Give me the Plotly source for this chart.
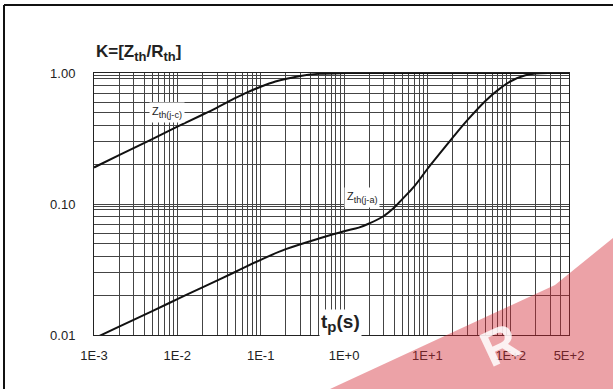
import plotly.graph_objects as go
import math

# ---- data ----
t_jc = [0.001, 0.002, 0.005, 0.01, 0.02, 0.03, 0.05, 0.07, 0.1, 0.15, 0.2, 0.3, 0.5, 1,
        2, 5, 10, 100, 500]
k_jc = [0.19, 0.236, 0.313, 0.389, 0.48, 0.545, 0.645, 0.715, 0.785, 0.86, 0.9, 0.95,
        0.985, 0.998, 1.0, 1.0, 1.0, 1.0, 1.0]

t_ja = [0.001, 0.002, 0.005, 0.01, 0.02, 0.05, 0.1, 0.2, 0.5, 1, 1.5, 2, 3, 4, 5, 7,
        10, 15, 20, 30, 50, 70, 100, 150, 200, 300, 500]
k_ja = [0.0094, 0.0116, 0.0152, 0.0188, 0.0231, 0.0304, 0.0375, 0.0452, 0.0545, 0.062,
        0.066, 0.071, 0.081, 0.094, 0.109, 0.137, 0.185, 0.255, 0.32, 0.435, 0.615,
        0.74, 0.865, 0.96, 0.99, 1.0, 1.0]

x_decades = [0.001, 0.01, 0.1, 1, 10]
x_last = [100, 200, 300, 400, 500]
x_tick_vals = [0.001, 0.01, 0.1, 1, 10, 100, 500]
x_tick_text = ["1E-3", "1E-2", "1E-1", "1E+0", "1E+1", "1E+2", "5E+2"]

y_decades = [0.01, 0.1]
y_extra = [0.095, 0.95, 1.0]
y_tick_vals = [0.01, 0.1, 1.0]
y_tick_text = ["0.01", "0.10", "1.00"]

# grid positions
x_grid = [d * m for d in x_decades for m in range(1, 10)] + x_last
y_grid = [d * m for d in y_decades for m in range(1, 10)] + y_extra


def labels(grid, vals, texts):
    out = []
    for g in grid:
        lab = ""
        for v, t in zip(vals, texts):
            if abs(g - v) / v < 1e-6:
                lab = t
        out.append(lab)
    return out


FONT = "Liberation Sans, Arial, Helvetica, sans-serif"
W, H = 613, 389
ML, MR, MT, MB = 94, 44, 73, 54
PW, PH = W - ML - MR, H - MT - MB


def px(x):
    return (x - ML) / PW


def py(y):
    return (H - MB - y) / PH


fig = go.Figure()
fig.add_trace(go.Scatter(x=t_jc, y=k_jc, mode="lines",
                         line=dict(color="#111", width=2, shape="spline", smoothing=1.0),
                         showlegend=False, hoverinfo="skip"))
fig.add_trace(go.Scatter(x=t_ja, y=k_ja, mode="lines",
                         line=dict(color="#111", width=2, shape="spline", smoothing=1.0),
                         showlegend=False, hoverinfo="skip"))

fig.update_xaxes(type="log", range=[-3, math.log10(500)],
                 tickvals=x_grid, ticktext=labels(x_grid, x_tick_vals, x_tick_text),
                 showgrid=True, gridcolor="#444", gridwidth=1,
                 showline=True, linecolor="#222", linewidth=1, mirror=True,
                 ticks="", zeroline=False,
                 tickfont=dict(family=FONT, size=13, color="#222"),
                 ticklabelstandoff=8)
fig.update_yaxes(type="log", range=[-2, 0],
                 tickvals=y_grid, ticktext=labels(y_grid, y_tick_vals, y_tick_text),
                 showgrid=True, gridcolor="#444", gridwidth=1,
                 showline=True, linecolor="#222", linewidth=1, mirror=True,
                 ticks="", zeroline=False,
                 tickfont=dict(family=FONT, size=13, color="#222"),
                 ticklabelstandoff=15)

annotations = [
    dict(text="<b>K=[Z<sub><span style='font-size:13px'>th</span></sub>/R"
              "<sub><span style='font-size:13px'>th</span></sub>]</b>",
         xref="paper", yref="paper",
         x=px(94), y=py(53), xanchor="left", yanchor="middle", showarrow=False,
         font=dict(family=FONT, size=17, color="#222")),
    dict(text="<span style='font-size:11px'>Z</span><sub>th(j-c)</sub>",
         xref="paper", yref="paper",
         x=px(167), y=py(112), xanchor="center", yanchor="middle", showarrow=False,
         bgcolor="white", borderpad=2,
         font=dict(family=FONT, size=13, color="#222")),
    dict(text="<span style='font-size:11px'>Z</span><sub>th(j-a)</sub>",
         xref="paper", yref="paper",
         x=px(362), y=py(197), xanchor="center", yanchor="middle", showarrow=False,
         bgcolor="white", borderpad=2,
         font=dict(family=FONT, size=13, color="#222")),
    dict(text="<b>t<sub><span style='font-size:15px'>p</span></sub>(s)</b>",
         xref="paper", yref="paper",
         x=px(340), y=py(323), xanchor="center", yanchor="middle", showarrow=False,
         bgcolor="white", borderpad=1,
         font=dict(family=FONT, size=19, color="#222")),
    # watermark letter
    dict(text="<b>R</b>", xref="paper", yref="paper",
         x=px(500), y=py(345), xanchor="center", yanchor="middle", showarrow=False,
         textangle=-25, font=dict(family=FONT, size=50, color="rgba(255,255,255,0.85)")),
]

wm_path = "M {} {} L {} {} L {} {} L {} {} Z".format(
    px(330), py(389), px(555), py(285), px(613), py(238), px(613), py(389))

shapes = [
    dict(type="path", xref="paper", yref="paper", path=wm_path,
         fillcolor="rgba(210,40,50,0.43)", line=dict(width=0), layer="above"),
    dict(type="line", xref="paper", yref="paper",
         x0=px(4), y0=py(5), x1=px(620), y1=py(5), line=dict(color="#111", width=2)),
    dict(type="line", xref="paper", yref="paper",
         x0=px(4), y0=py(5), x1=px(4), y1=py(395), line=dict(color="#111", width=2)),
]

fig.update_layout(width=W, height=H,
                  margin=dict(l=ML, r=MR, t=MT, b=MB, pad=0),
                  paper_bgcolor="white", plot_bgcolor="white",
                  annotations=annotations, shapes=shapes,
                  font=dict(family=FONT))

fig.write_html("out.html", config={"displayModeBar": False})

# remove the default page margin so the figure sits at the window origin
with open("out.html", "r", encoding="utf-8") as f:
    html = f.read()
html = html.replace("<head>", "<head><style>html,body{margin:0;padding:0;overflow:hidden}</style>", 1)
with open("out.html", "w", encoding="utf-8") as f:
    f.write(html)
